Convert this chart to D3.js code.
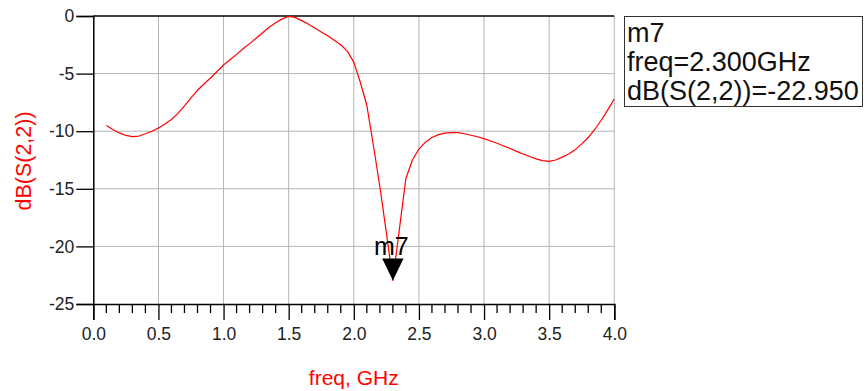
<!DOCTYPE html>
<html>
<head>
<meta charset="utf-8">
<script src="https://cdn.jsdelivr.net/npm/d3@7"></script>
<style>
  html, body { margin: 0; padding: 0; background: #fff; }
  svg { display: block; font-family: "Liberation Sans", Arial, sans-serif; }
</style>
</head>
<body>
<svg id="chart" width="864" height="391"></svg>
<script>
// Swept frequency points (GHz), 0.05 GHz step
const freq = [0.10,0.15,0.20,0.25,0.30,0.35,0.40,0.45,0.50,0.55,
              0.60,0.65,0.70,0.75,0.80,0.85,0.90,0.95,1.00,1.05,
              1.10,1.15,1.20,1.25,1.30,1.35,1.40,1.45,1.50,1.55,
              1.60,1.65,1.70,1.75,1.80,1.85,1.90,1.95,2.00,2.05,
              2.10,2.15,2.20,2.25,2.30,2.35,2.40,2.45,2.50,2.55,
              2.60,2.65,2.70,2.75,2.80,2.85,2.90,2.95,3.00,3.05,
              3.10,3.15,3.20,3.25,3.30,3.35,3.40,3.45,3.50,3.55,
              3.60,3.65,3.70,3.75,3.80,3.85,3.90,3.95,4.00];
// Return loss dB(S(2,2)) at each frequency point
const dbS22 = [-9.5,-9.85,-10.15,-10.37,-10.47,-10.42,-10.22,-10.0,-9.72,-9.38,
               -8.98,-8.45,-7.8,-7.1,-6.45,-5.9,-5.38,-4.82,-4.25,-3.8,
               -3.33,-2.85,-2.4,-1.93,-1.45,-0.98,-0.58,-0.25,-0.03,-0.12,
               -0.4,-0.7,-1.05,-1.38,-1.72,-2.1,-2.5,-3.05,-4.0,-5.75,
               -7.75,-11.2,-14.8,-18.8,-22.95,-18.5,-14.1,-12.5,-11.55,-10.95,
               -10.55,-10.3,-10.17,-10.12,-10.13,-10.22,-10.35,-10.48,-10.65,-10.85,
               -11.05,-11.28,-11.5,-11.75,-11.98,-12.2,-12.4,-12.55,-12.62,-12.5,
               -12.25,-11.98,-11.6,-11.1,-10.55,-9.85,-9.05,-8.15,-7.2];

const xTicks = [0.0,0.5,1.0,1.5,2.0,2.5,3.0,3.5,4.0];
const yTicks = [0,-5,-10,-15,-20,-25];

// Marker m7
const markerName = "m7";
const markerFreq = 2.3;
const markerValue = -22.950;

const svg = d3.select("#chart");
const x = d3.scaleLinear().domain([0, 4]).range([93.3, 614.3]);
const y = d3.scaleLinear().domain([-25, 0]).range([304, 16]);

const gridColor = "#b4b4b4";
const textColor = "#222";
const font = "'Liberation Sans', Arial, sans-serif";

// grid
const grid = svg.append("g");
grid.selectAll("line.vx").data(xTicks.slice(1)).join("line")
  .attr("x1", d => x(d)).attr("x2", d => x(d))
  .attr("y1", y(0)).attr("y2", y(-25))
  .attr("stroke", gridColor).attr("stroke-width", 1);
grid.selectAll("line.hy").data(yTicks.slice(1, -1)).join("line")
  .attr("x1", x(0)).attr("x2", x(4))
  .attr("y1", d => y(d)).attr("y2", d => y(d))
  .attr("stroke", gridColor).attr("stroke-width", 1);

// top border
svg.append("line").attr("x1", x(0)).attr("x2", x(4))
  .attr("y1", y(0)).attr("y2", y(0)).attr("stroke", "#000").attr("stroke-width", 1.3);

// y axis
const yAxis = d3.axisLeft(y).tickValues(yTicks).tickSize(17).tickPadding(2)
  .tickFormat(d => d === 0 ? "0" : "-" + Math.abs(d));
const gy = svg.append("g").attr("transform", `translate(${x(0)},0)`).call(yAxis);
gy.select(".domain").attr("stroke", "#000").attr("stroke-width", 1.5);
gy.selectAll(".tick line").attr("stroke", "#000").attr("stroke-width", 1.3);
gy.selectAll(".tick text").attr("fill", textColor)
  .style("font-size", "17.5px").style("font-family", font);

// x axis with minor ticks every 0.1
const minor = d3.range(0, 41).map(i => i / 10).filter(v => Math.round(v * 10) % 5 !== 0);
svg.append("g").selectAll("line").data(minor).join("line")
  .attr("x1", d => x(d)).attr("x2", d => x(d))
  .attr("y1", y(-25)).attr("y2", y(-25) + 9)
  .attr("stroke", "#000").attr("stroke-width", 1.3);
const xAxis = d3.axisBottom(x).tickValues(xTicks).tickSize(16).tickPadding(8)
  .tickFormat(d3.format(".1f"));
const gx = svg.append("g").attr("transform", `translate(0,${y(-25)})`).call(xAxis);
gx.select(".domain").attr("stroke", "#000").attr("stroke-width", 1.5);
gx.selectAll(".tick line").attr("stroke", "#000").attr("stroke-width", 1.3);
gx.selectAll(".tick text").attr("fill", textColor)
  .style("font-size", "17.5px").style("font-family", font);

// axis titles
svg.append("text").attr("x", x(2)).attr("y", 385)
  .attr("text-anchor", "middle").attr("fill", "#f00")
  .style("font-size", "21px").text("freq, GHz");
svg.append("text").attr("transform", "translate(31,161) rotate(-90)")
  .attr("text-anchor", "middle").attr("fill", "#f00")
  .style("font-size", "21.5px").text("dB(S(2,2))");

// trace
const line = d3.line().x((d, i) => x(freq[i])).y(d => y(d));
svg.append("path").datum(dbS22)
  .attr("d", line).attr("fill", "none")
  .attr("stroke", "#f00").attr("stroke-width", 1.2)
  .attr("stroke-linejoin", "round");

// marker triangle and label
const mx = x(markerFreq), my = y(markerValue);
svg.append("path")
  .attr("d", `M${mx},${my} L${mx - 10.7},${my - 22} L${mx + 10.7},${my - 22} Z`)
  .attr("fill", "#000");
svg.append("text").attr("x", mx - 1.5).attr("y", my - 25)
  .attr("text-anchor", "middle").attr("fill", "#000")
  .style("font-size", "25px").text(markerName);

// marker readout box
const box = svg.append("g");
box.append("rect").attr("x", 624.5).attr("y", 16.5).attr("width", 238).attr("height", 90)
  .attr("fill", "#fff").attr("stroke", "#333").attr("stroke-width", 1);
const lines = [markerName, `freq=${markerFreq.toFixed(3)}GHz`, `dB(S(2,2))=${markerValue.toFixed(3)}`];
box.selectAll("text").data(lines).join("text")
  .attr("x", 627).attr("y", (d, i) => 42 + i * 29)
  .attr("fill", "#111").style("font-size", "27px").text(d => d);
</script>
</body>
</html>
